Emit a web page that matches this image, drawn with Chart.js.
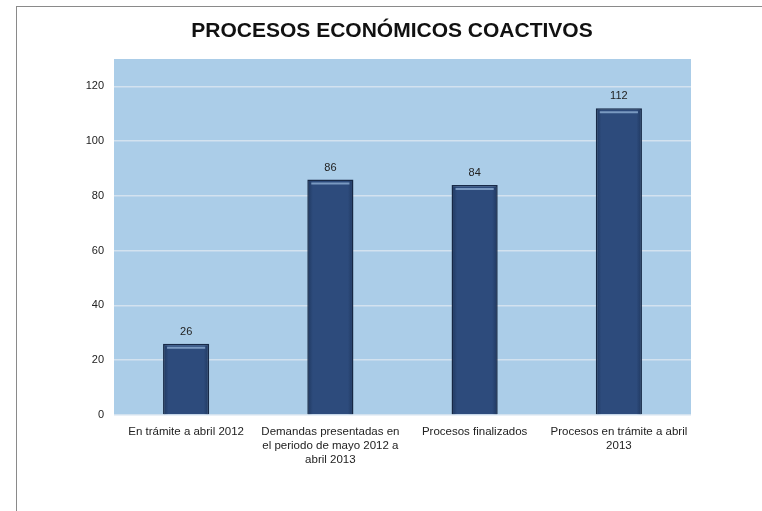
<!DOCTYPE html>
<html>
<head>
<meta charset="utf-8">
<script src="https://cdn.jsdelivr.net/npm/chart.js@4/dist/chart.umd.min.js"></script>
<style>
  html, body { margin: 0; padding: 0; background: #ffffff; }
  #wrap { position: relative; width: 762px; height: 511px; }
  #frame { position: absolute; left: 16px; top: 6px; right: 0; bottom: 0; border-top: 1px solid #8a8a8a; border-left: 1px solid #8a8a8a; pointer-events: none; }
  #title { position: absolute; left: 22px; right: 0; top: 17px; text-align: center; font: bold 21px 'Liberation Sans', Arial, sans-serif; color: #111; line-height: 25px; }
  canvas { position: absolute; left: 0; top: 0; }
</style>
</head>
<body>
<div id="wrap">
  <canvas id="c" width="762" height="511"></canvas>
  <div id="frame"></div>
  <div id="title"></div>
</div>
<script>
const titleText = 'PROCESOS ECONÓMICOS COACTIVOS';
const categories = [
  'En trámite a abril 2012',
  ['Demandas presentadas en', 'el periodo de mayo 2012 a', 'abril 2013'],
  'Procesos finalizados',
  ['Procesos en trámite a abril', '2013']
];
const values = [26, 86, 84, 112];
const yTicks = [0, 20, 40, 60, 80, 100, 120];
const yMax = 130;

document.getElementById('title').textContent = titleText;

const FONT = "'Liberation Sans', Arial, sans-serif";

const bgPlugin = {
  id: 'plotBg',
  beforeDraw(chart) {
    const a = chart.chartArea, ctx = chart.ctx;
    ctx.save();
    ctx.fillStyle = '#abcde8';
    ctx.fillRect(a.left, a.top, a.right - a.left, a.bottom - a.top);
    ctx.restore();
  }
};

const barDeco = {
  id: 'barDeco',
  afterDatasetsDraw(chart) {
    const ctx = chart.ctx;
    const meta = chart.getDatasetMeta(0);
    ctx.save();
    meta.data.forEach((bar, i) => {
      const p = bar.getProps(['x', 'y', 'base', 'width'], true);
      const l = p.x - p.width / 2, r = p.x + p.width / 2;
      const g = ctx.createLinearGradient(l, 0, r, 0);
      g.addColorStop(0, 'rgba(10,25,50,0.4)');
      g.addColorStop(0.12, 'rgba(10,25,50,0)');
      g.addColorStop(0.88, 'rgba(10,25,50,0)');
      g.addColorStop(1, 'rgba(10,25,50,0.4)');
      ctx.fillStyle = g;
      ctx.fillRect(l + 1, p.y + 1, p.width - 2, p.base - p.y - 1);
      ctx.strokeStyle = 'rgba(140,172,210,0.8)';
      ctx.lineWidth = 2;
      ctx.beginPath();
      ctx.moveTo(l + 4, p.y + 4);
      ctx.lineTo(r - 4, p.y + 4);
      ctx.stroke();
      ctx.fillStyle = '#222';
      ctx.font = '11px ' + FONT;
      ctx.textAlign = 'center';
      ctx.textBaseline = 'middle';
      ctx.fillText(String(values[i]), p.x, p.y - 12);
    });
    ctx.restore();
  }
};

new Chart(document.getElementById('c'), {
  type: 'bar',
  data: {
    labels: categories,
    datasets: [{
      data: values,
      backgroundColor: '#2d4b7c',
      borderColor: '#182a48',
      borderWidth: 1.5,
      barPercentage: 0.32,
      categoryPercentage: 1
    }]
  },
  options: {
    responsive: false,
    animation: false,
    devicePixelRatio: 1,
    layout: { padding: { left: 0, right: 71, top: 59, bottom: 30 } },
    plugins: {
      legend: { display: false },
      tooltip: { enabled: false },
      title: { display: false }
    },
    scales: {
      x: {
        grid: { display: false, drawTicks: false },
        border: { display: false },
        ticks: {
          color: '#222',
          font: { family: FONT, size: 11.5, lineHeight: 1.2 },
          padding: 10,
          maxRotation: 0,
          autoSkip: false
        },
        afterFit(scale) { scale.height = 66; }
      },
      y: {
        min: 0,
        max: yMax,
        grid: { color: '#d3e2ef', lineWidth: 1.5, drawTicks: false },
        border: { display: false },
        ticks: {
          color: '#222',
          font: { family: FONT, size: 11 },
          padding: 10
        },
        afterBuildTicks(scale) {
          scale.ticks = yTicks.map(v => ({ value: v }));
        },
        afterFit(scale) { scale.width = 114; }
      }
    }
  },
  plugins: [bgPlugin, barDeco]
});
</script>
</body>
</html>
